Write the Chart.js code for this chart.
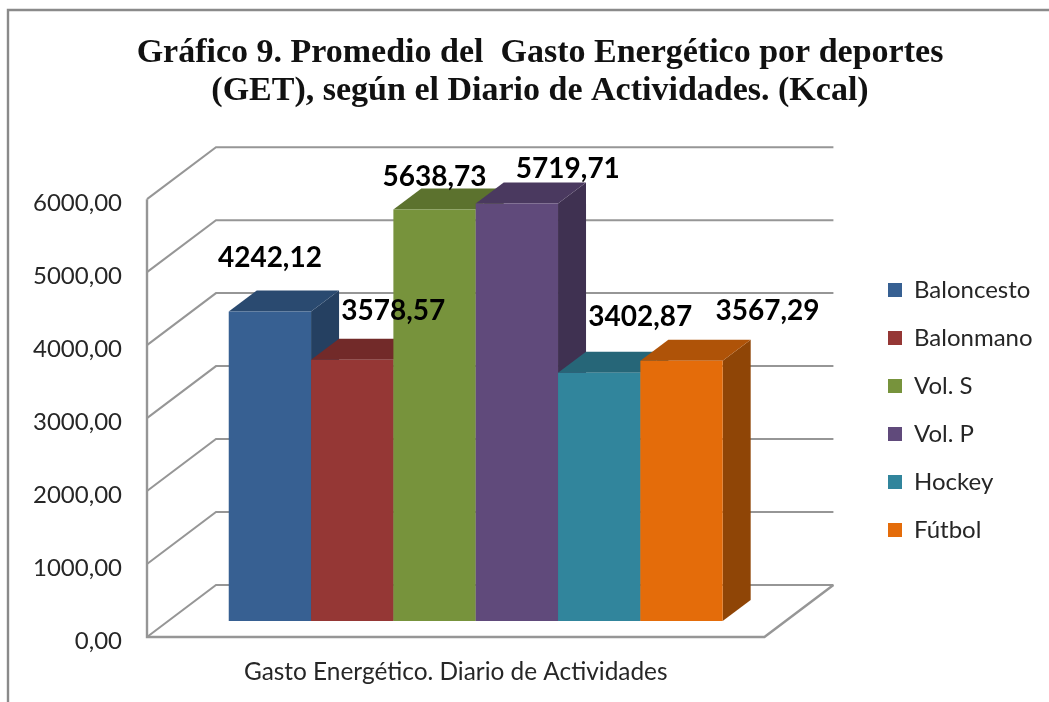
<!DOCTYPE html>
<html><head><meta charset="utf-8">
<style>html,body{margin:0;padding:0;background:#fff}canvas{display:block}</style>
<script src="https://cdn.jsdelivr.net/npm/chart.js@4"></script>
</head><body>
<canvas id="c" width="1049" height="702"></canvas>
<script>
const categories = ['Gasto Energético. Diario de Actividades'];
const seriesNames = ['Baloncesto','Balonmano','Vol. S','Vol. P','Hockey','Fútbol'];
const seriesValues = [4242.12,3578.57,5638.73,5719.71,3402.87,3567.29];
const frontColors = ['#376092','#953735','#77933C','#604A7B','#31859C','#E46C0A'];
const topColors   = ['#2A4A70','#722A29','#5C722E','#4A395F','#266678','#AF5308'];
const sideColors  = ['#254061','#632523','#4F6228','#3F3151','#215968','#8F4506'];
const labelOffsets = [[0,-53],[41,-49],[0,-33],[51,-35],[41,-56],[86,-50]];
const fmt = v => v.toFixed(2).replace('.',',');
const GRID='#969696';
const WALL={dx:69,dy:-52}, BAR_OFF={dx:20,dy:-16}, DEPTH={dx:28,dy:-21};
const SANS='Lato';

function poly(ctx,pts,fill,stroke,lw){
  ctx.beginPath();pts.forEach((p,i)=>i?ctx.lineTo(p[0],p[1]):ctx.moveTo(p[0],p[1]));
  if(fill){ctx.closePath();ctx.fillStyle=fill;ctx.fill();}
  if(stroke){ctx.strokeStyle=stroke;ctx.lineWidth=lw;ctx.stroke();}
}
const frame3d={
  id:'frame3d',
  afterLayout(chart){
    const t=chart.titleBlock; t.left=31; t.right=1049;
    const l=chart.legend,p=l.options.labels.padding;
    const w=l.right-l.left,h=l.bottom-l.top;
    l.left=888-p;l.right=l.left+w;l.top=278-p;l.bottom=l.top+h;
  },
  beforeDraw(chart){
    const c=chart.ctx;
    c.save();c.fillStyle='#fff';c.fillRect(0,0,1049,702);
    c.strokeStyle='#8a8a8a';c.lineWidth=2.4;
    c.beginPath();c.moveTo(8,702);c.lineTo(8,10);c.lineTo(1049,10);c.stroke();
    c.restore();
  },
  beforeDatasetsDraw(chart){
    const c=chart.ctx,y=chart.scales.y,a=chart.chartArea;
    c.save();
    const bx=a.left+WALL.dx,ex=a.right+WALL.dx;
    y.ticks.forEach(t=>{
      const py=y.getPixelForValue(t.value);
      poly(c,[[a.left,py],[bx,py+WALL.dy],[ex,py+WALL.dy]],null,GRID,2);
    });
    const y0=y.getPixelForValue(0);
    poly(c,[[a.left,a.top],[a.left,y0],[a.right,y0],[ex,y0+WALL.dy]],null,GRID,2.4);
    // bars, left to right so that each front covers the previous side
    c.translate(BAR_OFF.dx,BAR_OFF.dy);
    chart.data.datasets.forEach((d,i)=>{
      const el=chart.getDatasetMeta(i).data[0];
      const l=el.x-el.width/2,r=el.x+el.width/2,tp=el.y,b=el.base;
      poly(c,[[r,tp],[r+DEPTH.dx,tp+DEPTH.dy],[r+DEPTH.dx,b+DEPTH.dy],[r,b]],sideColors[i]);
      poly(c,[[l,tp],[l+DEPTH.dx,tp+DEPTH.dy],[r+DEPTH.dx,tp+DEPTH.dy],[r,tp]],topColors[i]);
      el.draw(c);
    });
    c.restore();
    return false;
  },
  afterDraw(chart){
    const c=chart.ctx;
    c.save();c.textAlign='center';c.textBaseline='middle';c.fillStyle='#000';
    c.font='bold 28px '+SANS;
    chart.data.datasets.forEach((d,i)=>{
      const el=chart.getDatasetMeta(i).data[0];
      c.fillText(fmt(d.data[0]),el.x+BAR_OFF.dx+labelOffsets[i][0],el.y+BAR_OFF.dy+labelOffsets[i][1]);
    });
    c.restore();
  }
};
new Chart(document.getElementById('c'),{
  type:'bar',
  data:{labels:categories,datasets:seriesNames.map((n,i)=>({label:n,data:[seriesValues[i]],backgroundColor:frontColors[i],borderWidth:0,barPercentage:1,categoryPercentage:0.8}))},
  plugins:[frame3d],
  options:{
    responsive:false,animation:false,
    layout:{padding:{left:0,right:106,top:0,bottom:0}},
    scales:{
      y:{min:0,max:6000,ticks:{stepSize:1000,padding:25,labelOffset:4,callback:v=>fmt(v),color:'#262626',font:{family:SANS,size:24}},
         grid:{display:false,drawTicks:false},border:{display:false},afterFit:s=>{s.width=147;}},
      x:{ticks:{padding:21,color:'#262626',font:{family:SANS,size:24.4}},grid:{display:false,drawTicks:false},border:{display:false},afterFit:s=>{s.height=65;}}
    },
    plugins:{
      tooltip:{enabled:false},
      title:{display:true,text:['Gráfico 9. Promedio del  Gasto Energético por deportes','(GET), según el Diario de Actividades. (Kcal)'],
        color:'#111',font:{family:'Liberation Serif',size:34,weight:'bold',lineHeight:1.12},padding:{top:34,bottom:89}},
      legend:{position:'right',align:'start',labels:{boxWidth:14,boxHeight:14,padding:24,color:'#262626',font:{family:SANS,size:24}}}
    }
  }
});
</script>
</body></html>
